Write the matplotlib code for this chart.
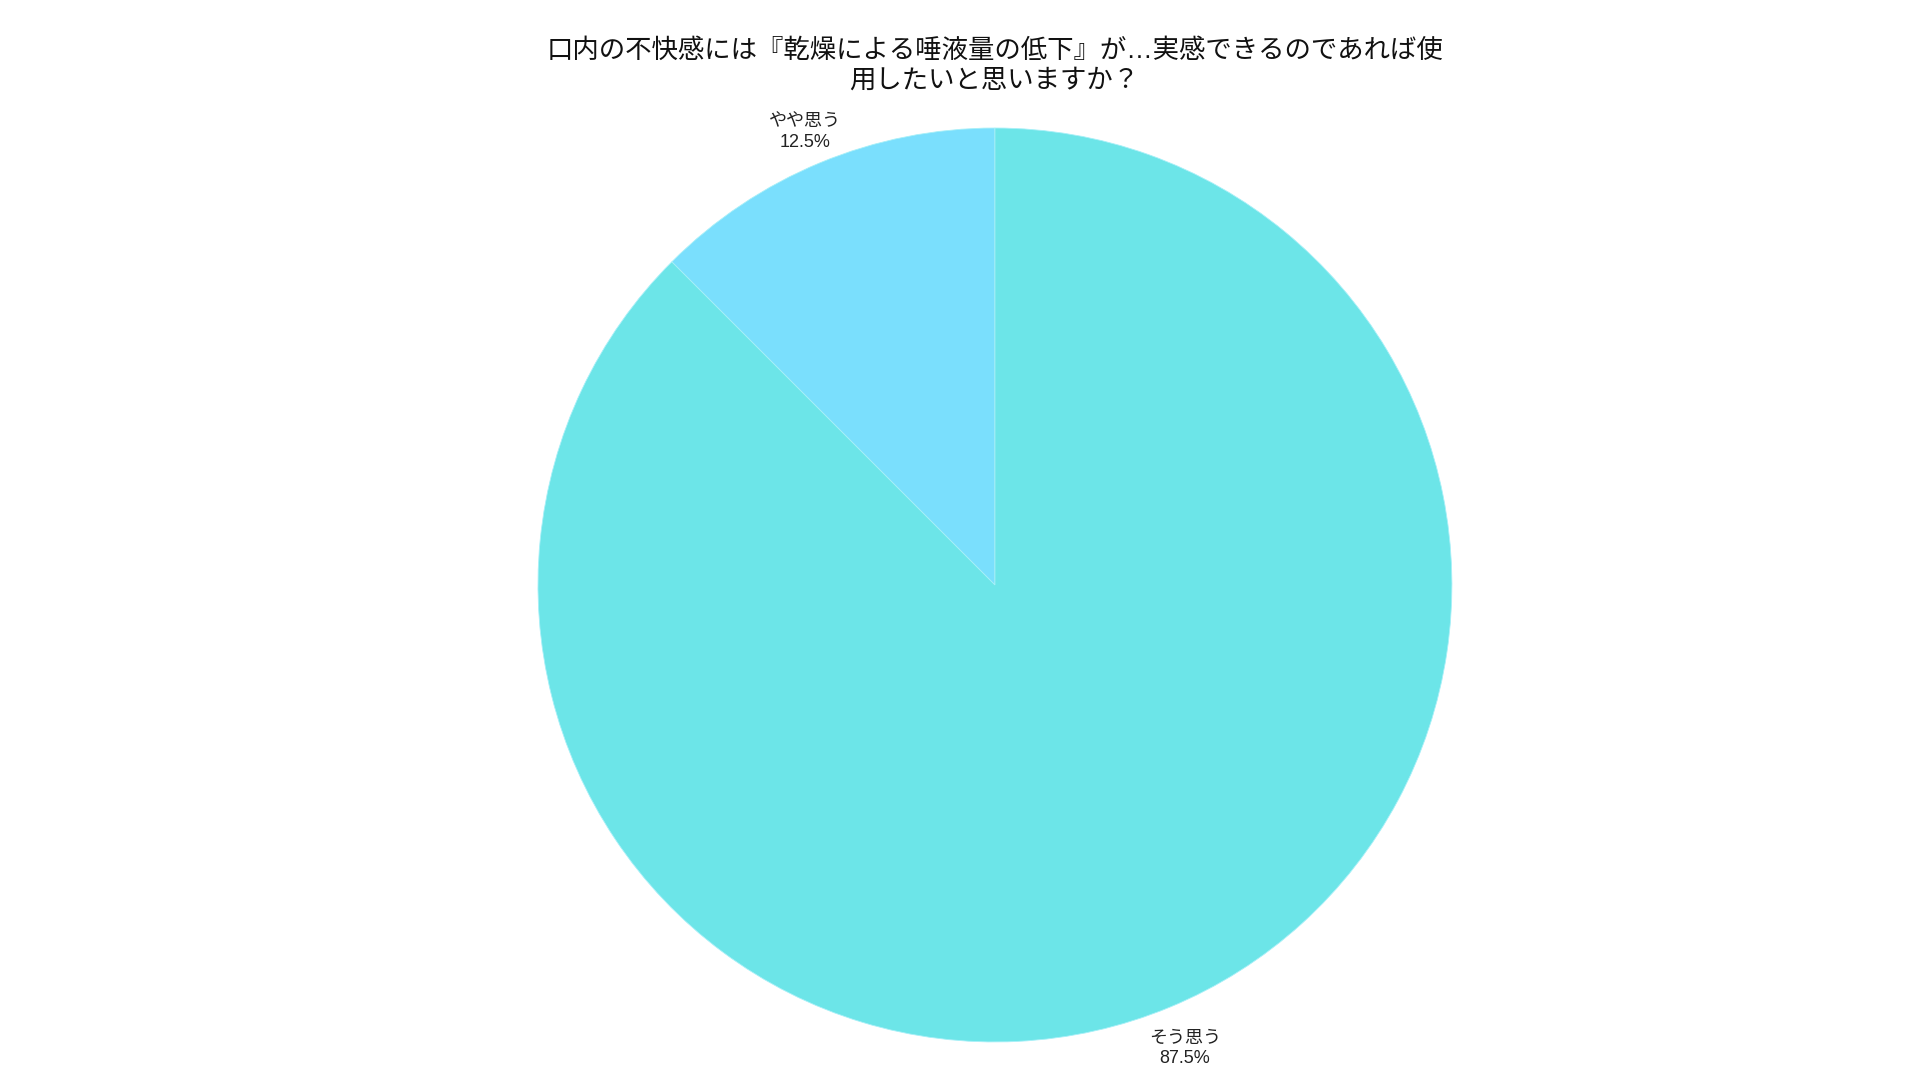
import matplotlib
matplotlib.use("Agg")
import matplotlib.pyplot as plt

plt.rcParams['font.family'] = ['Liberation Sans', 'Noto Sans CJK JP', 'DejaVu Sans']

'''Survey answers and shares (percent)'''
ANSWERS = ["やや思う", "そう思う"]
SHARES = [12.5, 87.5]
COLORS = ["#7adffd", "#6ce5e8"]
TITLE = "口内の不快感には『乾燥による唾液量の低下』が…実感できるのであれば使\n用したいと思いますか？"


def main():
        fig = plt.figure(figsize=(19.2, 10.8), dpi=100)
        ax = fig.add_axes([0.2802, 0.0352, 0.4760, 0.8463])

        labels = [f"{a}\n{s}%" for a, s in zip(ANSWERS, SHARES)]
        wedges, texts = ax.pie(SHARES, labels=labels, colors=COLORS, startangle=90,
                               counterclock=True, labeldistance=1.085,
                               wedgeprops={'linewidth': 0.6, 'edgecolor': '#a8f0f8'},
                               textprops={'fontsize': 13, 'color': '#222222'})
        for t in texts:
                t.set_ha('center')
                t.set_va('center')
                t.set_linespacing(1.25)
                # nudge down a touch
                x, y = t.get_position()
                t.set_position((x, y - 0.011))
        ax.set_xlim(-1, 1)
        ax.set_ylim(-1, 1)
        ax.set_aspect('equal')
        ax.axis('off')

        fig.text(0.518, 0.939, TITLE, ha='center', va='center', fontsize=19,
                 color='#111111', linespacing=1.3)

        fig.savefig("out.png", dpi=100, facecolor='white')


if __name__ == "__main__":
        main()
